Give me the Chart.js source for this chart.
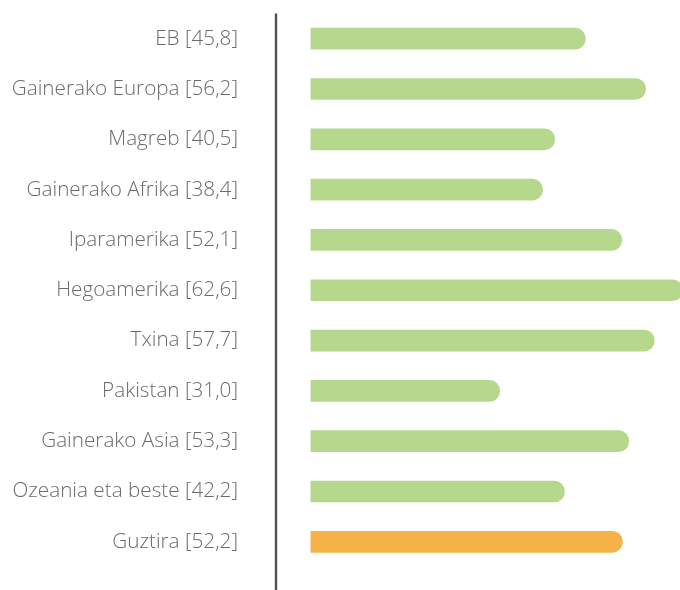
<!DOCTYPE html>
<html>
<head>
<meta charset="utf-8">
<script src="https://cdn.jsdelivr.net/npm/chart.js@4"></script>
<style>
  html, body { margin: 0; padding: 0; background: #fff; overflow: hidden; }
  #wrap { width: 680px; height: 590px; }
</style>
</head>
<body>
<div id="wrap"><canvas id="c" width="680" height="590"></canvas></div>
<script>
const categories = ["EB", "Gainerako Europa", "Magreb", "Gainerako Afrika", "Iparamerika", "Hegoamerika", "Txina", "Pakistan", "Gainerako Asia", "Ozeania eta beste", "Guztira"];
const values = [45.8, 56.2, 40.5, 38.4, 52.1, 62.6, 57.7, 31.0, 53.3, 42.2, 52.2];
const tickLabels = categories.map((c, i) => c + " [" + values[i].toFixed(1).replace(".", ",") + "]");
const barColors = values.map((v, i) => i === values.length - 1 ? "#F4B247" : "#B5D88C");

const axisLine = {
  id: "axisLine",
  afterDraw(chart) {
    const ctx = chart.ctx;
    const x = chart.chartArea.left;
    ctx.save();
    ctx.strokeStyle = "#4d5253";
    ctx.lineWidth = 2.4;
    ctx.beginPath();
    ctx.moveTo(x, chart.chartArea.top);
    ctx.lineTo(x, chart.height);
    ctx.stroke();
    ctx.restore();
  }
};

new Chart(document.getElementById("c"), {
  type: "bar",
  data: {
    labels: tickLabels,
    datasets: [{
      data: values,
      base: -1.6,
      backgroundColor: barColors,
      borderRadius: 11,
      borderSkipped: "start",
      barThickness: 21,
      clip: false
    }]
  },
  options: {
    indexAxis: "y",
    responsive: false,
    animation: false,
    layout: { padding: { top: 13.5, bottom: 23, left: 0, right: 0 } },
    plugins: { legend: { display: false }, tooltip: { enabled: false } },
    scales: {
      x: { display: false, min: -7.63, max: 62.14 },
      y: {
        grid: { display: false, drawTicks: false },
        border: { display: false },
        afterFit(scale) { scale.width = 276; scale.paddingTop = 0; scale.paddingBottom = 0; },
        ticks: {
          padding: 38,
          color: "#6b6b6b",
          font: { family: "'Open Sans'", size: 20.7, weight: 300 }
        }
      }
    }
  },
  plugins: [axisLine]
});
</script>
</body>
</html>
